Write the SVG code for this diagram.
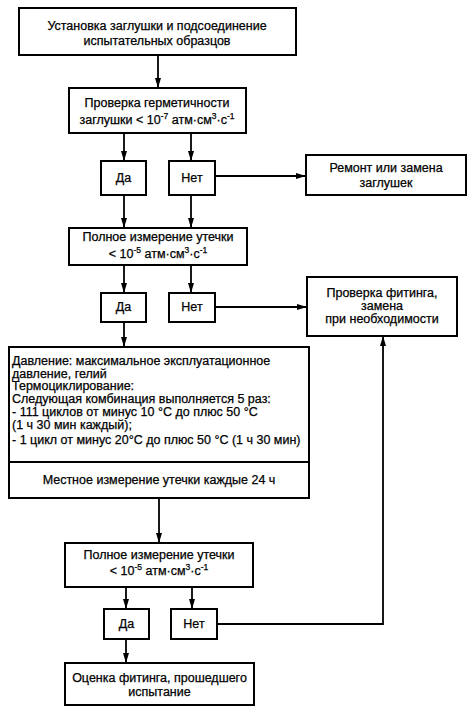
<svg xmlns="http://www.w3.org/2000/svg" width="470" height="713" viewBox="0 0 470 713">
<style>
.box{fill:#fff;stroke:#000;stroke-width:2}
.t{font-family:"Liberation Sans",Arial,sans-serif;font-size:12.5px;fill:#000;stroke:#000;stroke-width:0.25;text-anchor:middle}
.l{text-anchor:start}
.sup{font-size:8.5px}
.c{fill:none;stroke:#000;stroke-width:1.8}
</style>
<defs>
<marker id="ah" viewBox="0 0 10 6" refX="10" refY="3" markerWidth="10" markerHeight="6" markerUnits="userSpaceOnUse" orient="auto">
<path d="M0,0 L10,3 L0,6 z" fill="#000"/>
</marker>
</defs>
<rect width="470" height="713" fill="#fff"/>
<g id="connectors">
<path class="c" d="M158,55 V88" marker-end="url(#ah)"/>
<path class="c" d="M124,133 V161" marker-end="url(#ah)"/>
<path class="c" d="M191,133 V161" marker-end="url(#ah)"/>
<path class="c" d="M215,176 H306" marker-end="url(#ah)"/>
<path class="c" d="M124,195 V228" marker-end="url(#ah)"/>
<path class="c" d="M191,195 V228" marker-end="url(#ah)"/>
<path class="c" d="M124,265 V293" marker-end="url(#ah)"/>
<path class="c" d="M191,265 V293" marker-end="url(#ah)"/>
<path class="c" d="M215,307 H307" marker-end="url(#ah)"/>
<path class="c" d="M124,322 V347" marker-end="url(#ah)"/>
<path class="c" d="M159,498 V543" marker-end="url(#ah)"/>
<path class="c" d="M126,587 V609" marker-end="url(#ah)"/>
<path class="c" d="M192,587 V609" marker-end="url(#ah)"/>
<path class="c" d="M217,624 H383 V336" marker-end="url(#ah)"/>
<path class="c" d="M126,639 V663" marker-end="url(#ah)"/>
</g>
<g id="n1">
<rect class="box" x="19" y="8" width="277" height="47"/>
<text class="t" x="157" y="30">Установка заглушки и подсоединение</text>
<text class="t" x="157" y="45">испытательных образцов</text>
</g>
<g id="n2">
<rect class="box" x="69" y="88" width="177" height="45"/>
<text class="t" x="157" y="107">Проверка герметичности</text>
<text class="t" x="157" y="124">заглушки &lt; 10<tspan class="sup" dy="-5">-7</tspan><tspan dy="5"> атм·см</tspan><tspan class="sup" dy="-5">3</tspan><tspan dy="5">·с</tspan><tspan class="sup" dy="-5">-1</tspan></text>
</g>
<g id="n3">
<rect class="box" x="101" y="161" width="45" height="34"/>
<text class="t" x="123.5" y="182">Да</text>
</g>
<g id="n4">
<rect class="box" x="169" y="161" width="46" height="34"/>
<text class="t" x="192" y="182">Нет</text>
</g>
<g id="n5">
<rect class="box" x="306" y="155" width="160" height="40"/>
<text class="t" x="386" y="172">Ремонт или замена</text>
<text class="t" x="386" y="187">заглушек</text>
</g>
<g id="n6">
<rect class="box" x="69" y="228" width="178" height="37"/>
<text class="t" x="158" y="241">Полное измерение утечки</text>
<text class="t" x="158" y="258">&lt; 10<tspan class="sup" dy="-5">-5</tspan><tspan dy="5"> атм·см</tspan><tspan class="sup" dy="-5">3</tspan><tspan dy="5">·с</tspan><tspan class="sup" dy="-5">-1</tspan></text>
</g>
<g id="n7">
<rect class="box" x="101" y="293" width="45" height="29"/>
<text class="t" x="123.5" y="311">Да</text>
</g>
<g id="n8">
<rect class="box" x="169" y="293" width="46" height="29"/>
<text class="t" x="192" y="311">Нет</text>
</g>
<g id="n9">
<rect class="box" x="307" y="277" width="150" height="59"/>
<text class="t" x="382" y="297">Проверка фитинга,</text>
<text class="t" x="382" y="310">замена</text>
<text class="t" x="382" y="323">при необходимости</text>
</g>
<g id="n10">
<rect class="box" x="9" y="347" width="300" height="151"/>
<line x1="9" y1="462" x2="309" y2="462" stroke="#000" stroke-width="2"/>
<text class="t l" x="12" y="365">Давление: максимальное эксплуатационное</text>
<text class="t l" x="12" y="377.5">давление, гелий</text>
<text class="t l" x="12" y="390">Термоциклирование:</text>
<text class="t l" x="12" y="402.5">Следующая комбинация выполняется 5 раз:</text>
<text class="t l" x="12" y="416">- 111 циклов от минус 10 °С до плюс 50 °С</text>
<text class="t l" x="12" y="428.5">(1 ч 30 мин каждый);</text>
<text class="t l" x="12" y="444">- 1 цикл от минус 20°С до плюс 50 °С (1 ч 30 мин)</text>
<text class="t" x="159" y="484">Местное измерение утечки каждые 24 ч</text>
</g>
<g id="n11">
<rect class="box" x="65" y="543" width="188" height="44"/>
<text class="t" x="159" y="559">Полное измерение утечки</text>
<text class="t" x="159" y="575">&lt; 10<tspan class="sup" dy="-5">-5</tspan><tspan dy="5"> атм·см</tspan><tspan class="sup" dy="-5">3</tspan><tspan dy="5">·с</tspan><tspan class="sup" dy="-5">-1</tspan></text>
</g>
<g id="n12">
<rect class="box" x="104" y="609" width="45" height="30"/>
<text class="t" x="126.5" y="628">Да</text>
</g>
<g id="n13">
<rect class="box" x="171" y="609" width="46" height="30"/>
<text class="t" x="194" y="628">Нет</text>
</g>
<g id="n14">
<rect class="box" x="65" y="663" width="189" height="42"/>
<text class="t" x="159.5" y="682">Оценка фитинга, прошедшего</text>
<text class="t" x="159.5" y="696">испытание</text>
</g>
</svg>
